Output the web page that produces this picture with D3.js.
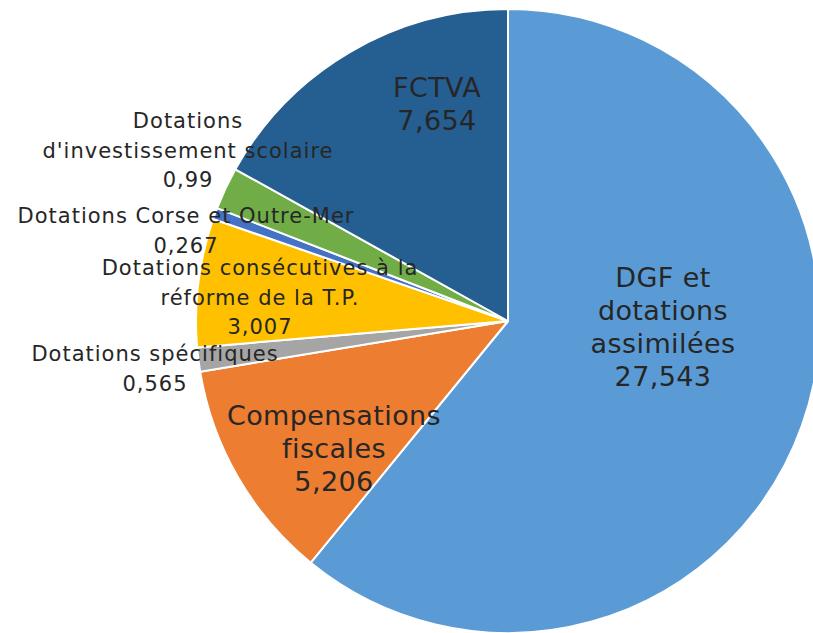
<!DOCTYPE html>
<html>
<head>
<meta charset="utf-8">
<script src="https://cdn.jsdelivr.net/npm/d3@7"></script>
<style>
  body { margin: 0; background: #fff; }
  text { font-family: "DejaVu Sans", sans-serif; fill: #262626; }
</style>
</head>
<body>
<div id="chart"></div>
<script>
// data (Md€)
let categories = ["DGF et dotations assimilées", "Compensations fiscales", "Dotations spécifiques",
                  "Dotations consécutives à la réforme de la T.P.", "Dotations Corse et Outre-Mer",
                  "Dotations d'investissement scolaire", "FCTVA"];
let values = [27.543, 5.206, 0.565, 3.007, 0.267, 0.99, 7.654];
// how each label is broken into lines
let labelLines = [
    ["DGF et", "dotations", "assimilées"],
    ["Compensations", "fiscales"],
    ["Dotations spécifiques"],
    ["Dotations consécutives à la", "réforme de la T.P."],
    ["Dotations Corse et Outre-Mer"],
    ["Dotations", "d'investissement scolaire"],
    ["FCTVA"]
];
let colors = ["#5b9bd5", "#ed7d31", "#a5a5a5", "#ffc000", "#4472c4", "#70ad47", "#255e91"];

let width = 813, height = 633;
let cx = 508, cy = 321, radius = 312;

// label anchor: offset from pie centre (x centre, first baseline), big = inside label style
let labelPos = [
    {dx: 155, dy: -34, big: true},
    {dx: -174, dy: 104, big: true},
    {dx: -353, dy: 40, big: false},
    {dx: -248, dy: -46, big: false},
    {dx: -322, dy: -98, big: false},
    {dx: -320, dy: -193, big: false},
    {dx: -71, dy: -224, big: true}
];

const svg = d3.select("#chart").append("svg")
    .attr("width", width)
    .attr("height", height);

let data = categories.map((c, i) => ({name: c, value: values[i], lines: labelLines[i], color: colors[i], pos: labelPos[i]}));

let pie = d3.pie()
    .value(d => d.value)
    .sort(null);

let arc = d3.arc()
    .innerRadius(0)
    .outerRadius(radius);

let g = svg.append("g")
    .attr("transform", `translate(${cx},${cy})`);

g.selectAll("path")
    .data(pie(data))
    .join("path")
    .attr("d", arc)
    .attr("fill", d => d.data.color)
    .attr("stroke", "#fff")
    .attr("stroke-width", 2)
    .attr("stroke-linejoin", "round");

let fmt = v => String(v).replace(".", ",");

let labels = g.selectAll("text.lbl")
    .data(data)
    .join("text")
    .attr("class", "lbl")
    .attr("text-anchor", "middle")
    .attr("font-size", d => d.pos.big ? 27 : 21)
    .attr("letter-spacing", d => d.pos.big ? 0.4 : 1);

labels.each(function(d){
    let lh = d.pos.big ? 33 : 29.5;
    let rows = d.lines.concat([fmt(d.value)]);
    d3.select(this).selectAll("tspan")
        .data(rows)
        .join("tspan")
        .attr("x", d.pos.dx)
        .attr("y", (r, i) => d.pos.dy + i * lh)
        .text(r => r);
});
</script>
</body>
</html>
